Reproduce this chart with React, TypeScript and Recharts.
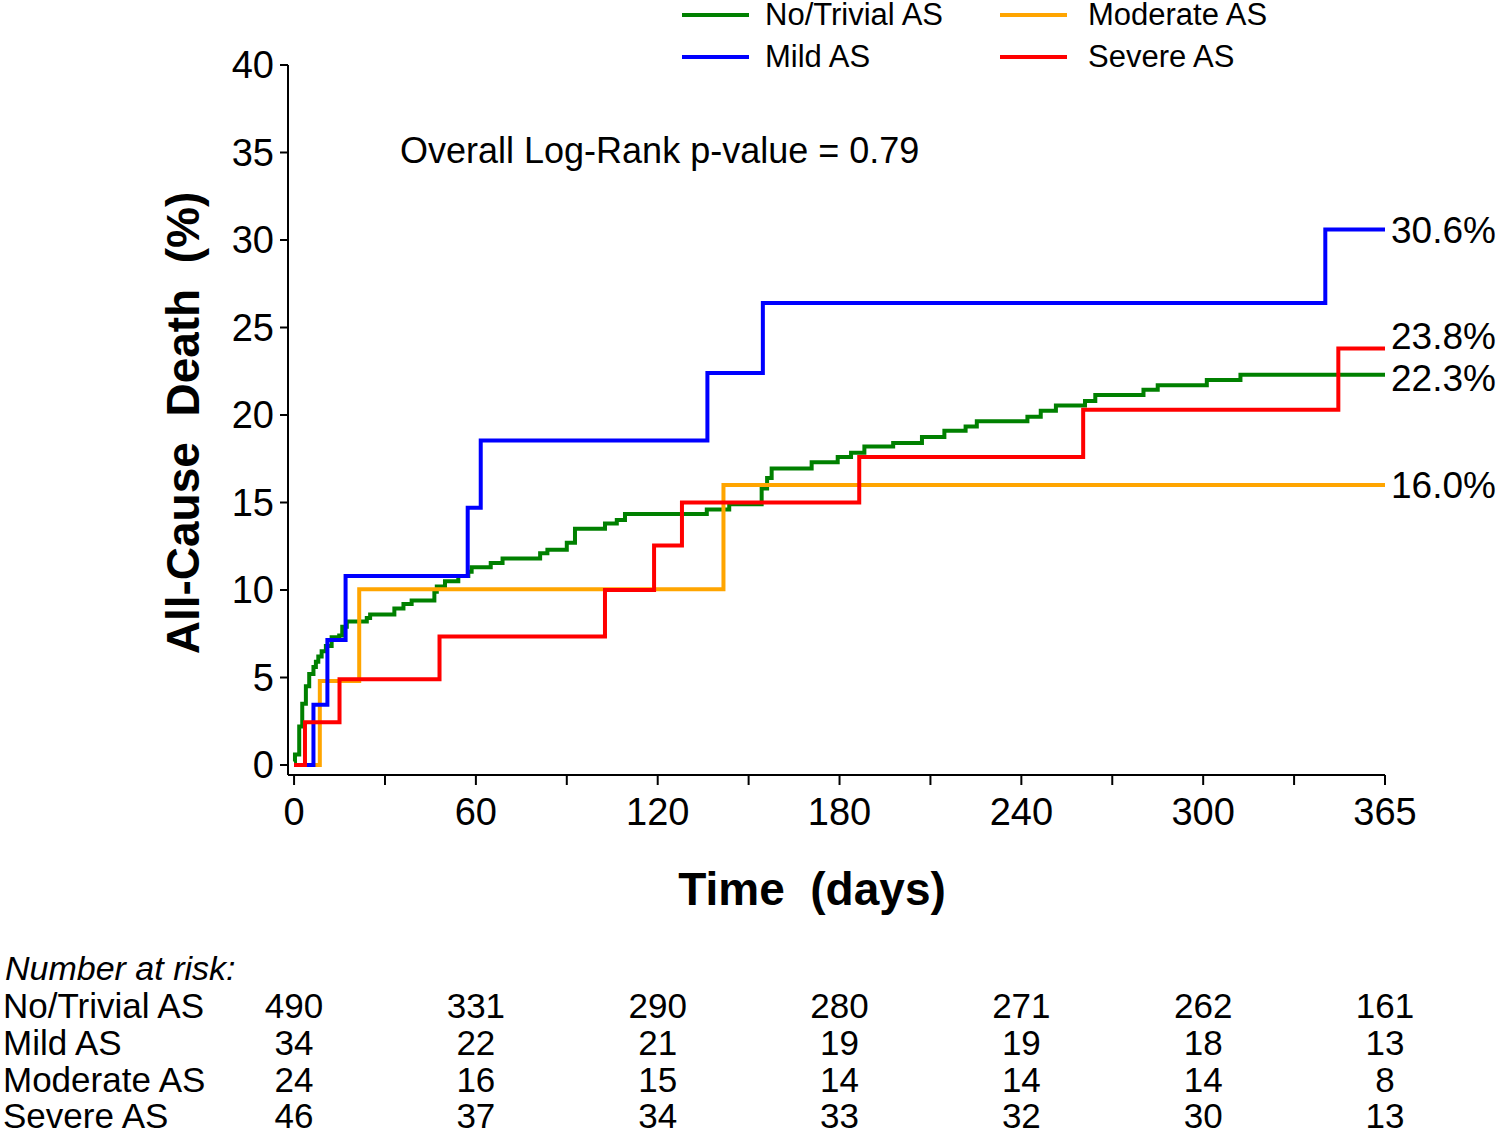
import { Customized, Legend, Line, LineChart, XAxis, YAxis } from "recharts";

const FONT = '"Liberation Sans", Arial, Helvetica, sans-serif';

// [day, cumulative all-cause death %]
const NO_TRIVIAL_AS: [number, number][] = [
  [0, 0.2], [0.3, 0.6], [1.7, 2.2], [2.7, 3.5], [3.9, 4.5], [5, 5.2], [6.4, 5.6],
  [7.2, 5.9], [8, 6.2], [9.1, 6.5], [10.5, 6.8], [12.4, 7.3], [14.9, 7.4], [15.9, 7.9],
  [17.4, 8.2], [24, 8.4], [25.1, 8.6], [33.1, 8.95], [36.1, 9.2], [38.8, 9.4],
  [46.3, 9.9], [47.1, 10.2], [49.8, 10.5], [54.2, 10.8], [57.5, 11.05], [58.6, 11.3],
  [64.9, 11.55], [68.8, 11.8], [81.2, 12.1], [83.6, 12.3], [90, 12.7], [92.7, 13.5],
  [102.6, 13.8], [106.5, 14.0], [109.2, 14.35], [136.2, 14.6], [143.6, 14.9],
  [154.3, 15.8], [156.1, 16.4], [157.6, 16.95], [170.8, 17.3], [179.4, 17.6],
  [183.8, 17.85], [188.2, 18.2], [197.7, 18.4], [207.2, 18.75], [214.6, 19.1],
  [221.6, 19.35], [225.3, 19.65], [242, 19.9], [246.4, 20.25], [251.4, 20.55],
  [261, 20.8], [264.4, 21.15], [280.3, 21.45], [285, 21.7], [301.2, 22.0],
  [312.3, 22.3], [360, 22.3],
];
const MILD_AS: [number, number][] = [
  [0, 0], [6.4, 3.45], [11, 7.15], [17, 10.8], [57.3, 14.7], [61.6, 18.55],
  [136.4, 22.4], [154.7, 26.4], [340.3, 30.6], [360, 30.6],
];
const MODERATE_AS: [number, number][] = [
  [0, 0], [8.5, 4.8], [21.5, 10.05], [141.7, 16.0], [360, 16.0],
];
const SEVERE_AS: [number, number][] = [
  [0, 0], [3.6, 2.45], [15, 4.9], [48, 7.35], [102.6, 10.0], [118.8, 12.55],
  [128, 15.0], [186.5, 17.6], [260.4, 20.3], [344.6, 23.8], [360, 23.8],
];

const X_TICKS = [0, 30, 60, 90, 120, 150, 180, 210, 240, 270, 300, 330, 360];
const X_TICK_LABELS: Record<number, string> = {
  0: "0", 60: "60", 120: "120", 180: "180", 240: "240", 300: "300", 360: "365",
};
const Y_TICKS = [0, 5, 10, 15, 20, 25, 30, 35, 40];

const RISK_DAYS = [0, 60, 120, 180, 240, 300, 360];
const RISK_NO_TRIVIAL = [490, 331, 290, 280, 271, 262, 161];
const RISK_MILD = [34, 22, 21, 19, 19, 18, 13];
const RISK_MODERATE = [24, 16, 15, 14, 14, 14, 8];
const RISK_SEVERE = [46, 37, 34, 33, 32, 30, 13];

const toPoints = (rows: [number, number][]) => rows.map(([day, pct]) => ({ day, pct }));

const SERIES = [
  { name: "No/Trivial AS", color: "#008000", data: toPoints(NO_TRIVIAL_AS), risk: RISK_NO_TRIVIAL, labelDy: 4 },
  { name: "Mild AS", color: "#0000ff", data: toPoints(MILD_AS), risk: RISK_MILD, labelDy: 1 },
  { name: "Moderate AS", color: "#ffa500", data: toPoints(MODERATE_AS), risk: RISK_MODERATE, labelDy: 0 },
  { name: "Severe AS", color: "#ff0000", data: toPoints(SEVERE_AS), risk: RISK_SEVERE, labelDy: -12 },
];

// drawing order: green under the others
const DRAW_ORDER = [0, 2, 1, 3];
// legend: 2 x 2 grid, row-major
const LEGEND_ORDER = [0, 2, 1, 3];
const RISK_ROW_Y = [1005, 1042, 1079, 1115];

function TimeTick(props: any) {
  const { x, payload } = props;
  const label = X_TICK_LABELS[payload.value];
  if (label === undefined) return null;
  const col = RISK_DAYS.indexOf(payload.value);
  return (
    <g fontFamily={FONT} fill="#000">
      <text x={x} y={812} textAnchor="middle" dominantBaseline="central" fontSize={38}>
        {label}
      </text>
      {col >= 0 &&
        SERIES.map((s, i) => (
          <text key={s.name} x={x} y={RISK_ROW_Y[i]} textAnchor="middle" dominantBaseline="central" fontSize={35}>
            {s.risk[col]}
          </text>
        ))}
    </g>
  );
}

function Annotations() {
  return (
    <g fontFamily={FONT} fill="#000">
      <text x={400} y={163} fontSize={36}>
        Overall Log-Rank p-value = 0.79
      </text>
      <text
        transform="translate(199,423) rotate(-90)"
        textAnchor="middle"
        fontSize={46}
        fontWeight="bold"
        style={{ whiteSpace: "pre" }}
      >
        {"All-Cause  Death  (%)"}
      </text>
      <text x={812} y={905} textAnchor="middle" fontSize={46} fontWeight="bold" style={{ whiteSpace: "pre" }}>
        {"Time  (days)"}
      </text>
      <text x={5} y={968} dominantBaseline="central" fontSize={34} fontStyle="italic">
        Number at risk:
      </text>
      {SERIES.map((s, i) => (
        <text key={s.name} x={3} y={RISK_ROW_Y[i]} dominantBaseline="central" fontSize={35}>
          {s.name}
        </text>
      ))}
    </g>
  );
}

function LegendGrid() {
  return (
    <div style={{ position: "relative", width: 1500, height: 80, fontFamily: FONT }}>
      {LEGEND_ORDER.map((idx, k) => {
        const s = SERIES[idx];
        const col = k % 2;
        const row = Math.floor(k / 2);
        const left = col === 0 ? 682 : 1000;
        const top = row === 0 ? 15 : 57;
        return (
          <div key={s.name}>
            <div
              style={{
                position: "absolute",
                left,
                top: top - 2,
                width: 67,
                height: 4,
                background: s.color,
              }}
            />
            <div
              style={{
                position: "absolute",
                left: left + (col === 0 ? 83 : 88),
                top: top - 19,
                fontSize: 31,
                lineHeight: "38px",
                whiteSpace: "nowrap",
                color: "#000",
              }}
            >
              {s.name}
            </div>
          </div>
        );
      })}
    </div>
  );
}

function endLabel(seriesIdx: number) {
  const s = SERIES[seriesIdx];
  const last = s.data.length - 1;
  return (p: any) => {
    if (p.index !== last) return null;
    return (
      <text
        x={p.x + 6}
        y={p.y + s.labelDy}
        dominantBaseline="central"
        fontFamily={FONT}
        fontSize={37}
        fill="#000"
      >
        {`${s.data[last].pct.toFixed(1)}%`}
      </text>
    );
  };
}

export default function App() {
  return (
    <div style={{ width: 1500, height: 1135, background: "#fff" }}>
      <style>{"body{margin:0;}"}</style>
      <LineChart width={1500} height={1135} margin={{ top: 65, right: 115, bottom: 0, left: 0 }}>
        <XAxis
          dataKey="day"
          type="number"
          domain={[-2, 360]}
          ticks={X_TICKS}
          allowDuplicatedCategory={false}
          height={360}
          stroke="#000"
          strokeWidth={2}
          tickSize={10}
          tick={<TimeTick />}
          interval={0}
        />
        <YAxis
          type="number"
          domain={[-0.571, 40]}
          ticks={Y_TICKS}
          width={288}
          stroke="#000"
          strokeWidth={2}
          tickSize={8}
          tickMargin={6}
          interval={0}
          allowDataOverflow
          tick={{ fontSize: 38, fontFamily: FONT, fill: "#000" }}
        />
        <Legend
          layout="horizontal"
          verticalAlign="middle"
          align="center"
          content={<LegendGrid />}
          wrapperStyle={{ position: "absolute", top: 0, left: 0, width: 1500, height: 80 }}
        />
        {DRAW_ORDER.map((idx) => {
          const s = SERIES[idx];
          return (
            <Line
              key={s.name}
              name={s.name}
              data={s.data}
              dataKey="pct"
              type="stepAfter"
              stroke={s.color}
              strokeWidth={4}
              dot={false}
              activeDot={false}
              isAnimationActive={false}
              label={endLabel(idx)}
            />
          );
        })}
        <Customized component={<Annotations />} />
      </LineChart>
    </div>
  );
}
